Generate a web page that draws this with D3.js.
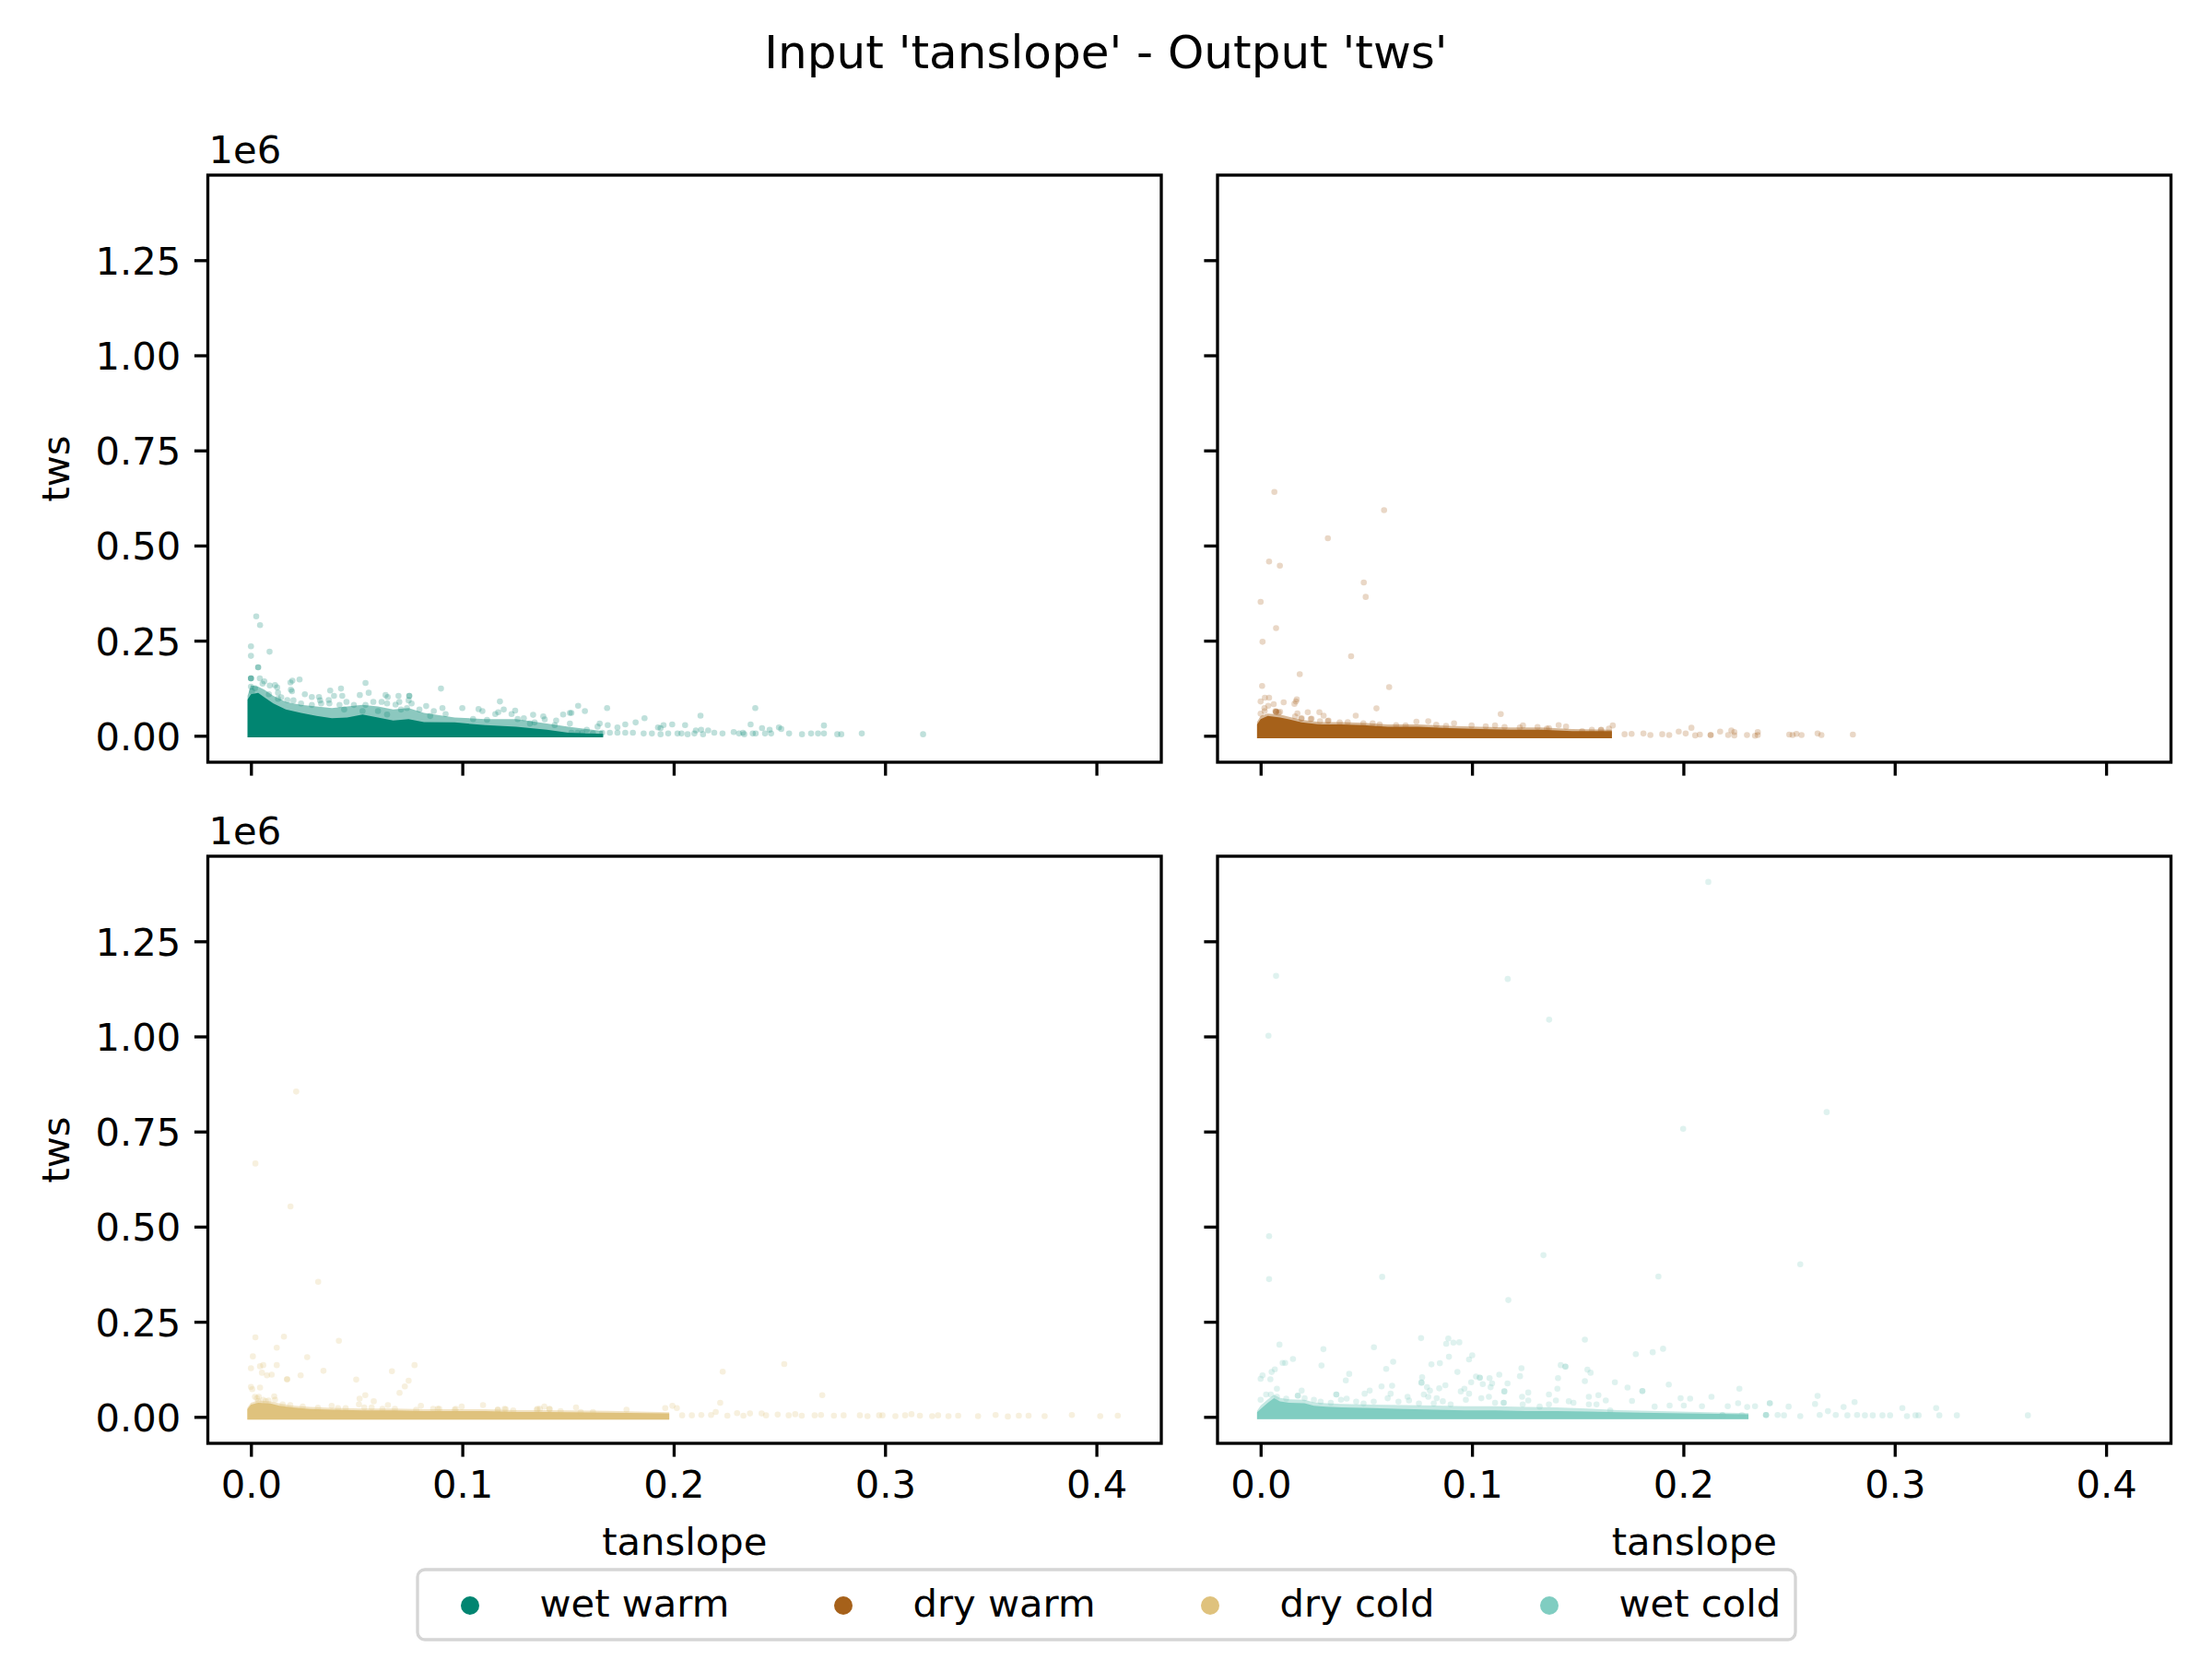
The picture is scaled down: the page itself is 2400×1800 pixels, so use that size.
<!DOCTYPE html>
<html>
<head>
<meta charset="utf-8">
<script src="https://cdn.jsdelivr.net/npm/d3@7"></script>
<style>
    html, body { margin: 0; padding: 0; background: #fff; }
    text { font-family: "DejaVu Sans", sans-serif; fill: #000; }
</style>
</head>
<body>
<div id="chart"></div>
<script>
const regions = ["wet warm", "dry warm", "dry cold", "wet cold"];
const colours = ["#018571", "#a6611a", "#dfc27d", "#80cdc1"];
const xTicks = [0, 0.1, 0.2, 0.3, 0.4];
const yTicks = [0, 0.25, 0.5, 0.75, 1, 1.25];

// tws is kept in units of 1e6. Single points are read off the picture,
// the saturated band is kept as an outline (x, solid top, thinner top, lowest value).
const wetWarmX = [0.0025,0.0043,0,0,0.0088,0.0034,0.0034,0,0,0,0.0042,0.0063,0.0196,0.023,0.0187,0.0189,0.0194,0.0089,0.0114,0.0124,0.0128,0.0085,0.0143,0.0172,0.0201,0.0255,0.0288,0.0322,0.0327,0.0332,0.0375,0.0393,0.0426,0.0432,0.0368,0.0371,0.0452,0.0419,0.0487,0.0542,0.0557,0.0515,0.0542,0.0579,0.0618,0.0637,0.0647,0.0644,0.0698,0.0702,0.0749,0.0749,0.076,0.0746,0.0684,0.0738,0.071,0.0797,0.0829,0.0865,0.0899,0.0906,0.0848,0.0921,0.1,0.1051,0.1077,0.1095,0.1117,0.1178,0.1196,0.1156,0.117,0.1233,0.125,0.1262,0.1291,0.1335,0.132,0.1383,0.139,0.1342,0.1444,0.1477,0.1437,0.1509,0.1509,0.0601,0.0644,0.0528,0.0441,0.0288,0.0237,0.0128,0.0019,0.0005,0.0055,0,0.1516,0.1545,0.1567,0.1589,0.1618,0.164,0.165,0.1662,0.1688,0.1698,0.1734,0.1734,0.1771,0.1771,0.1807,0.182,0.1858,0.1862,0.1897,0.1926,0.1938,0.1938,0.1952,0.1974,0.1993,0.2018,0.2037,0.2054,0.2066,0.2098,0.2105,0.2127,0.213,0.2139,0.2163,0.2192,0.2231,0.2284,0.2309,0.2328,0.2334,0.2364,0.2374,0.2388,0.2386,0.2418,0.2432,0.2454,0.2461,0.2498,0.2509,0.2546,0.2607,0.265,0.2683,0.2711,0.2711,0.2774,0.2793,0.289,0.1548,0.1516,0.158,0.1685,0.318];
const wetWarmY = [0.314,0.291,0.235,0.21,0.221,0.18,0.18,0.151,0.151,0.151,0.151,0.143,0.145,0.148,0.14,0.121,0.117,0.132,0.133,0.127,0.113,0.109,0.101,0.094,0.093,0.109,0.102,0.102,0.093,0.085,0.119,0.105,0.124,0.105,0.094,0.085,0.089,0.081,0.081,0.139,0.113,0.107,0.081,0.089,0.089,0.107,0.102,0.085,0.105,0.089,0.105,0.105,0.085,0.093,0.082,0.073,0.069,0.069,0.078,0.065,0.124,0.073,0.052,0.057,0.073,0.044,0.07,0.065,0.042,0.09,0.069,0.057,0.062,0.057,0.066,0.044,0.046,0.055,0.032,0.051,0.043,0.035,0.04,0.056,0.028,0.06,0.032,0.065,0.056,0.065,0.069,0.081,0.085,0.097,0.125,0.117,0.137,0.129,0.008,0.008,0.008,0.016,0.006,0.024,0.032,0.008,0.028,0.008,0.022,0.008,0.03,0.008,0.008,0.035,0.006,0.046,0.006,0.022,0.02,0.004,0.028,0.006,0.03,0.006,0.006,0.028,0.004,0.006,0.014,0.053,0.016,0.004,0.014,0.008,0.006,0.01,0.006,0.008,0.004,0.03,0.006,0.006,0.073,0.02,0.006,0.016,0.006,0.022,0.018,0.006,0.004,0.006,0.006,0.006,0.027,0.004,0.004,0.006,0.079,0.06,0.065,0.073,0.004];
const wetWarmBandX = [-0.0016,0,0.0034,0.0063,0.0106,0.0165,0.0237,0.031,0.0383,0.0455,0.0528,0.0601,0.0673,0.0746,0.0819,0.0964,0.1109,0.1255,0.14,0.1502,0.1666];
const wetWarmBandTop = [0.095,0.109,0.113,0.101,0.085,0.069,0.06,0.052,0.046,0.048,0.056,0.048,0.04,0.044,0.036,0.035,0.028,0.024,0.016,0.008,0.005];
const wetWarmThinTop = [0.105,0.133,0.129,0.121,0.105,0.089,0.081,0.077,0.073,0.077,0.081,0.077,0.069,0.073,0.06,0.048,0.044,0.044,0.032,0.024,0.012];
const wetWarmBandLow = -0.004;

const dryWarmX = [0.0065,0.0584,0.0318,0.004,0.0091,0.0488,0.0497,0,0.0073,0.0009,0.0428,0.0185,0.0007,0.0608,0.002,0.004,0,0.0171,0.0167,0.0109,0.016,0.0062,0.0036,0.0548,0.0018,0.0223,0.0278,0.0298,0.045,0.1136,0.0073,0.0073,0.0073,0.0085,0.0174,0.0163,0,0.0241,0.0192,0.0318,0.0737,0.0793,0.0915,0.0831,0.141,0.1445,0.1241,0.1666,0.1648,0.2038,0.2174,0.2227,0.2241,0.2352,0.1978,0.2301,0.2129,0.2129,0.2056,0.2078,0.2212,0.2241,0.2352,0.2339,0.2501,0.2517,0.2535,0.2559,0.2635,0.2653,0.2802,0.2011,0.1933,0.19,0.1844,0.1811,0.1722,0.1755,0.0374,0.0486,0.053,0.0563,0.0641,0.0686,0.0998,0.1065,0.1109,0.1154,0.131,0.1354,0.1521,0.161,0.0019,0.007,0.0092,0.0194,0.0237,0.0321,0.0281,0.0877,0.1226,0.1364,0.1567,0.1611,0.0412];
const dryWarmY = [0.641,0.593,0.519,0.458,0.447,0.403,0.365,0.352,0.283,0.247,0.209,0.162,0.131,0.128,0.1,0.1,0.09,0.096,0.09,0.088,0.084,0.083,0.079,0.072,0.073,0.062,0.062,0.053,0.053,0.057,0.063,0.063,0.063,0.061,0.059,0.051,0.058,0.045,0.045,0.039,0.037,0.038,0.033,0.029,0.028,0.024,0.027,0.027,0.019,0.021,0.011,0.014,0.01,0.01,0.011,0.002,0.002,0.002,0.001,0.003,0.002,0.001,0.002,0,0.003,0.002,0.005,0.002,0.006,0.002,0.003,0.006,0.002,0.004,0.002,0.006,0.004,0.005,0.035,0.033,0.033,0.03,0.028,0.027,0.027,0.025,0.027,0.023,0.023,0.019,0.012,0.015,0.065,0.065,0.063,0.046,0.044,0.04,0.038,0.026,0.022,0.02,0.016,0.016,0.036];
const dryWarmBandX = [-0.0017,0,0.0034,0.0092,0.0135,0.0194,0.0281,0.0382,0.0484,0.0601,0.0746,0.0891,0.1037,0.1182,0.1328,0.1473,0.1662];
const dryWarmBandTop = [0.03,0.044,0.052,0.048,0.043,0.035,0.03,0.03,0.028,0.024,0.024,0.02,0.018,0.016,0.016,0.012,0.012];
const dryWarmThinTop = [0.036,0.052,0.058,0.056,0.05,0.042,0.036,0.036,0.034,0.03,0.03,0.026,0.024,0.022,0.022,0.018,0.016];
const dryWarmBandLow = -0.0066;

const dryColdX = [0.0214,0.0021,0.0187,0.0318,0.0021,0.0156,0.0416,0.0122,0.0009,0.0266,0.0122,0.0058,0.0043,0,0.0774,0.0343,0.0667,0.0052,0.0076,0.0098,0.0235,0.0171,0.0171,0.0498,0.0746,0.0728,0,0.0006,0.0043,0.0703,0.0541,0.0514,0.0581,0.0037,0.011,0.0028,0.0083,0.0058,0.0511,0.0648,0.0804,0.0997,0.1098,0.1388,0.1538,0.0382,0.196,0.1994,0.2015,0.1777,0.2523,0.2232,0.2703,0.222,0.1367,0.1352,0.1413,0.1205,0.1168,0.0969,0.0884,0.204,0.2086,0.2131,0.2177,0.2199,0.2254,0.23,0.233,0.2361,0.2416,0.2437,0.2492,0.2544,0.2575,0.2606,0.2697,0.2667,0.2758,0.2804,0.2881,0.2917,0.2972,0.2988,0.3049,0.3095,0.3125,0.3165,0.3223,0.3251,0.33,0.3346,0.344,0.3523,0.3581,0.3633,0.3679,0.3755,0.3884,0.4018,0.4101,0.0019,0.0034,0.007,0.0114,0.015,0.0186,0.0245,0.0317,0.0412,0.0448,0.0536,0.0571,0.0622,0.0681,0.0782,0.0862,0.0891,0.0964,0.1168,0.12,0.1241,0.1356,0.1412,0.1465,0.156,0.1618];
const dryColdY = [0.855,0.666,0.553,0.355,0.209,0.211,0.2,0.182,0.159,0.157,0.136,0.136,0.133,0.128,0.136,0.121,0.12,0.116,0.109,0.111,0.109,0.099,0.099,0.098,0.095,0.08,0.079,0.073,0.077,0.063,0.057,0.048,0.041,0.053,0.054,0.049,0.043,0.045,0.033,0.031,0.029,0.027,0.031,0.027,0.025,0.029,0.023,0.029,0.023,0.019,0.139,0.119,0.057,0.037,0.021,0.019,0.02,0.02,0.019,0.021,0.021,0.004,0.004,0.005,0.005,0.013,0.003,0.01,0.003,0.009,0.009,0.004,0.006,0.004,0.007,0.003,0.005,0.004,0.003,0.004,0.004,0.002,0.004,0.004,0.002,0.004,0.007,0.003,0.002,0.004,0.002,0.003,0.002,0.005,0.001,0.003,0.003,0.002,0.005,0.002,0.003,0.053,0.041,0.041,0.045,0.033,0.031,0.027,0.024,0.023,0.023,0.025,0.025,0.021,0.021,0.019,0.021,0.021,0.019,0.019,0.021,0.017,0.021,0.021,0.015,0.013,0.013];
const dryColdBandX = [-0.0017,0,0.0034,0.0092,0.0135,0.0194,0.0281,0.0382,0.0528,0.0673,0.0819,0.0964,0.1109,0.1255,0.14,0.1691,0.1979];
const dryColdBandTop = [0.02,0.032,0.037,0.035,0.029,0.025,0.021,0.019,0.017,0.017,0.015,0.015,0.015,0.013,0.013,0.011,0.009];
const dryColdThinTop = [0.024,0.037,0.043,0.041,0.035,0.03,0.026,0.024,0.022,0.022,0.02,0.02,0.02,0.018,0.018,0.016,0.012];
const dryColdBandLow = -0.007;

const wetColdX = [0.2118,0.0073,0.1169,0.1365,0.0037,0.2678,0.1999,0.004,0.1338,0.2553,0.0575,0.1882,0.004,0.1172,0.0759,0.0888,0.0878,0.0912,0.094,0.1534,0.0089,0.0536,0.0297,0.1904,0.1855,0.1775,0.1001,0.0891,0.0153,0.0104,0.0116,0.0627,0.0848,0.0808,0.0986,0.142,0.1442,0.1442,0.0288,0.0594,0.1234,0.1546,0.1561,0.0067,0.0052,0.0931,0.0419,0.1129,0.1227,0.0009,0,0.0046,0.0403,0,0.0026,0.0048,0.0077,0.0077,0.0121,0.0176,0.0176,0.0194,0.0208,0.0252,0.0284,0.0332,0.0358,0.0358,0.038,0.0407,0.0452,0.0492,0.0516,0.0487,0.0535,0.0572,0.0622,0.0615,0.0601,0.0652,0.0695,0.0702,0.0749,0.0764,0.0761,0.0761,0.0787,0.0801,0.0772,0.0793,0.0845,0.0874,0.0833,0.0819,0.0862,0.0899,0.0947,0.0964,0.0986,0.0971,0.0996,0.1019,0.1037,0.1037,0.1051,0.1083,0.1095,0.1088,0.1044,0.108,0.1109,0.1153,0.1153,0.1168,0.115,0.115,0.1237,0.1266,0.124,0.1266,0.1364,0.1404,0.1407,0.1397,0.1364,0.132,0.1458,0.148,0.1553,0.1598,0.1633,0.1676,0.1553,0.1589,0.1534,0.1654,0.1931,0.1736,0.1806,0.1806,0.2265,0.2635,0.2133,0.1987,0.2032,0.281,0.2409,0.2409,0.2498,0.3036,0.3196,0.2623,0.2259,0.2302,0.2758,0.2684,0.2822,0.2859,0.2896,0.2942,0.2978,0.3058,0.3098,0.3113,0.3211,0.3294,0.363,0.2776,0.2721,0.2553,0.2476,0.2446,0.2391,0.2391,0.2391,0.2645,0.1757,0.1935,0.1864,0.2002,0.2088,0.221,0.2339,0.2185,0.2185,0.2277];
const wetColdY = [1.406,1.159,1.151,1.044,1.002,0.801,0.757,0.475,0.425,0.401,0.368,0.369,0.362,0.307,0.207,0.206,0.192,0.195,0.196,0.203,0.19,0.183,0.178,0.179,0.17,0.165,0.162,0.158,0.152,0.142,0.142,0.145,0.141,0.138,0.151,0.136,0.132,0.132,0.135,0.126,0.128,0.124,0.116,0.125,0.118,0.118,0.113,0.111,0.107,0.109,0.1,0.099,0.096,0.045,0.059,0.059,0.074,0.053,0.048,0.056,0.056,0.069,0.049,0.045,0.04,0.037,0.059,0.059,0.045,0.048,0.04,0.061,0.069,0.035,0.04,0.08,0.082,0.061,0.049,0.04,0.053,0.043,0.035,0.104,0.09,0.09,0.078,0.069,0.059,0.053,0.075,0.083,0.049,0.035,0.041,0.033,0.067,0.074,0.061,0.045,0.091,0.106,0.103,0.103,0.086,0.102,0.088,0.078,0.049,0.053,0.037,0.067,0.067,0.088,0.037,0.037,0.053,0.064,0.033,0.043,0.059,0.074,0.102,0.043,0.033,0.027,0.041,0.037,0.053,0.057,0.043,0.091,0.033,0.033,0.094,0.017,0.085,0.077,0.068,0.068,0.074,0.055,0.053,0.049,0.048,0.039,0.036,0.036,0.027,0.023,0.023,0.034,0.036,0.026,0.026,0.015,0.005,0.004,0.004,0.004,0.004,0.002,0.004,0.004,0.004,0.004,0.004,0.004,0.005,0.002,0.004,0.005,0.005,0.005,0.005,0.005,0.042,0.03,0.027,0.03,0.028,0.028,0.028,0.004,0.004,0.005];
const wetColdBandX = [-0.0017,0,0.0034,0.0063,0.0092,0.0135,0.0208,0.0252,0.031,0.0383,0.0528,0.0673,0.0819,0.0964,0.1109,0.1255,0.14,0.1545,0.1691,0.2308];
const wetColdBandTop = [0.012,0.021,0.037,0.049,0.041,0.037,0.036,0.029,0.027,0.025,0.023,0.021,0.019,0.017,0.017,0.015,0.015,0.014,0.012,0.007];
const wetColdThinTop = [0.016,0.03,0.046,0.058,0.05,0.046,0.045,0.038,0.036,0.034,0.032,0.031,0.03,0.028,0.028,0.026,0.025,0.022,0.018,0.01];
const wetColdBandLow = -0.006;

const panels = [
    { name: regions[0], colour: colours[0], xs: wetWarmX, ys: wetWarmY, bandX: wetWarmBandX, bandTop: wetWarmBandTop, thinTop: wetWarmThinTop, bandLow: wetWarmBandLow },
    { name: regions[1], colour: colours[1], xs: dryWarmX, ys: dryWarmY, bandX: dryWarmBandX, bandTop: dryWarmBandTop, thinTop: dryWarmThinTop, bandLow: dryWarmBandLow },
    { name: regions[2], colour: colours[2], xs: dryColdX, ys: dryColdY, bandX: dryColdBandX, bandTop: dryColdBandTop, thinTop: dryColdThinTop, bandLow: dryColdBandLow },
    { name: regions[3], colour: colours[3], xs: wetColdX, ys: wetColdY, bandX: wetColdBandX, bandTop: wetColdBandTop, thinTop: wetColdThinTop, bandLow: wetColdBandLow }
];

const width = 2400, height = 1800;
const panelW = 1034.5, panelH = 637;
const lefts = [225.5, 1321];
const tops = [190, 929];
const tickLen = 14.6, tickPad = 14.6, lineW = 3.33, fontSize = 41.67;
const pointR = 3.3, pointAlpha = 0.25, thinAlpha = 0.45;

const svg = d3.select("#chart")
    .append("svg")
    .attr("width", width)
    .attr("height", height)
    .style("display", "block");

svg.append("text")
    .attr("x", 1200)
    .attr("y", 74)
    .attr("text-anchor", "middle")
    .attr("font-size", "50px")
    .text("Input 'tanslope' - Output 'tws'");

const xScale = d3.scaleLinear().domain([-0.0204, 0.4307]).range([0, panelW]);
const yScale = d3.scaleLinear().domain([-0.0695, 1.4736]).range([panelH, 0]);

function drawPanel(p, i) {
    const col = i % 2, row = Math.floor(i / 2);
    const g = svg.append("g")
        .attr("transform", `translate(${lefts[col]}, ${tops[row]})`);

    // saturated band, with the thinner overplotted zone above it
    const band = key => d3.area()
        .x(d => xScale(d.x))
        .y0(yScale(p.bandLow))
        .y1(d => yScale(d[key]));
    const bandData = p.bandX.map((x, k) => ({ x: x, top: p.bandTop[k], thin: p.thinTop[k] }));
    g.append("path")
        .datum(bandData)
        .attr("d", band("thin"))
        .attr("fill", p.colour)
        .attr("fill-opacity", thinAlpha);
    g.append("path")
        .datum(bandData)
        .attr("d", band("top"))
        .attr("fill", p.colour);

    g.selectAll("circle")
        .data(p.xs.map((x, k) => ({ x: x, y: p.ys[k] })))
        .join("circle")
        .attr("cx", d => xScale(d.x))
        .attr("cy", d => yScale(d.y))
        .attr("r", pointR)
        .attr("fill", p.colour)
        .attr("fill-opacity", pointAlpha);

    // X-axis
    const xAxis = d3.axisBottom(xScale)
        .tickValues(xTicks)
        .tickSize(tickLen)
        .tickPadding(tickPad)
        .tickFormat(row === 1 ? d3.format(".1f") : "");
    const xg = g.append("g")
        .attr("transform", `translate(0, ${panelH})`)
        .call(xAxis);

    // Y-axis
    const yAxis = d3.axisLeft(yScale)
        .tickValues(yTicks)
        .tickSize(tickLen)
        .tickPadding(tickPad)
        .tickFormat(col === 0 ? d3.format(".2f") : "");
    const yg = g.append("g").call(yAxis);
    yg.selectAll("text").attr("dy", "0.36em");

    [xg, yg].forEach(a => {
        a.select(".domain").remove();
        a.selectAll("line").attr("stroke", "#000").attr("stroke-width", lineW);
        a.selectAll("text")
            .attr("font-family", "DejaVu Sans")
            .attr("font-size", fontSize + "px")
            .attr("fill", "#000");
    });

    g.append("rect")
        .attr("width", panelW)
        .attr("height", panelH)
        .attr("fill", "none")
        .attr("stroke", "#000")
        .attr("stroke-width", lineW);

    if (col === 0) {
        g.append("text")
            .attr("x", 1)
            .attr("y", -13)
            .attr("font-size", fontSize + "px")
            .text("1e6");
        g.append("text")
            .attr("transform", `translate(-151, ${panelH / 2}) rotate(-90)`)
            .attr("text-anchor", "middle")
            .attr("font-size", fontSize + "px")
            .text("tws");
    }
    if (row === 1) {
        g.append("text")
            .attr("x", panelW / 2)
            .attr("y", panelH + 121)
            .attr("text-anchor", "middle")
            .attr("font-size", fontSize + "px")
            .text("tanslope");
    }
}

panels.forEach(drawPanel);

// Legend
const legendMarkX = [510, 915, 1313, 1681];
const legend = svg.append("g");
legend.append("rect")
    .attr("x", 453)
    .attr("y", 1703)
    .attr("width", 1495)
    .attr("height", 76)
    .attr("rx", 8)
    .attr("fill", "#fff")
    .attr("stroke", "#d5d5d5")
    .attr("stroke-width", lineW);
regions.forEach((name, i) => {
    legend.append("circle")
        .attr("cx", legendMarkX[i])
        .attr("cy", 1742)
        .attr("r", 10)
        .attr("fill", colours[i]);
    legend.append("text")
        .attr("x", legendMarkX[i] + 75.5)
        .attr("y", 1754)
        .attr("font-size", fontSize + "px")
        .text(name);
});
</script>
</body>
</html>
